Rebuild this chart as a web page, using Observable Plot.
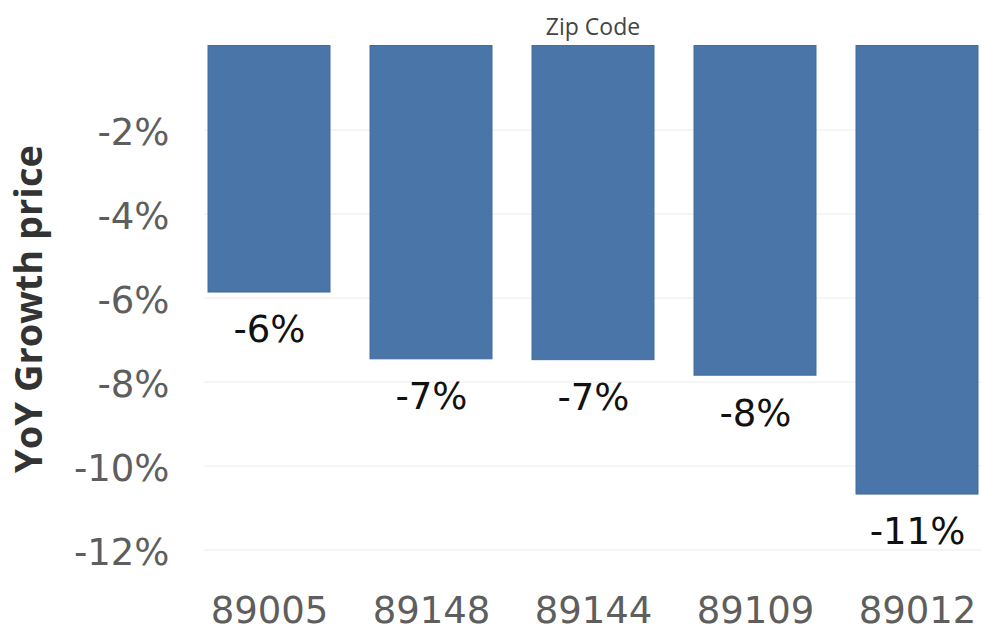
<!DOCTYPE html>
<html>
<head>
<meta charset="utf-8">
<script src="https://cdn.jsdelivr.net/npm/d3@7"></script>
<script src="https://cdn.jsdelivr.net/npm/@observablehq/plot@0.6"></script>
<style>
  html, body { margin: 0; padding: 0; background: #fff; }
  #chart svg { display: block; }
</style>
</head>
<body>
<div id="chart"></div>
<script>
// Year-over-year price growth by zip code (percent)
const zipCodes = ["89005", "89148", "89144", "89109", "89012"];
const growth = [-5.87, -7.46, -7.48, -7.85, -10.68];
const yTicks = [-2, -4, -6, -8, -10, -12];

const rows = zipCodes.map((zip, i) => ({zip, growth: growth[i]}));
const sans = "'Open Sans', 'DejaVu Sans', sans-serif";
const wide = "'DejaVu Sans', sans-serif";

const chart = Plot.plot({
  width: 981,
  height: 633,
  marginTop: 45.5,
  marginBottom: 83.5,
  marginLeft: 204,
  marginRight: 0,
  style: {fontFamily: sans, background: "#fff"},
  x: {domain: zipCodes, paddingInner: 0.25, paddingOuter: 0.02, label: null},
  y: {domain: [-12, 0], label: null},
  marks: [
    Plot.ruleY(yTicks, {stroke: "#ececec", strokeWidth: 1}),
    Plot.barY(rows, {x: "zip", y: "growth", fill: "#4a75a8", stroke: "#446c9c", strokeWidth: 1}),
    Plot.text(rows, {
      x: "zip", y: "growth",
      text: d => `${Math.round(d.growth)}%`,
      dy: 38, fontSize: 37, fontFamily: wide, fill: "#111"
    }),
    Plot.axisY(yTicks, {
      tickSize: 0, tickPadding: 35, dy: 3, fontSize: 37, fontFamily: wide, fill: "#5e5e5e",
      tickFormat: d => `${d}%`, label: null
    }),
    Plot.axisX({
      tickSize: 0, tickPadding: 47, fontSize: 37, fontFamily: wide, fill: "#5e5e5e", label: null
    }),
    Plot.text(["Zip Code"], {
      frameAnchor: "top", lineAnchor: "middle", dy: -18, fontSize: 23, fill: "#444"
    }),
    Plot.text(["YoY Growth price"], {
      frameAnchor: "left", textAnchor: "middle", lineAnchor: "middle",
      dx: -175, dy: 11, rotate: -90,
      fontSize: 38, fontWeight: "bold", fill: "#333"
    })
  ]
});

document.getElementById("chart").append(chart);
</script>
</body>
</html>
